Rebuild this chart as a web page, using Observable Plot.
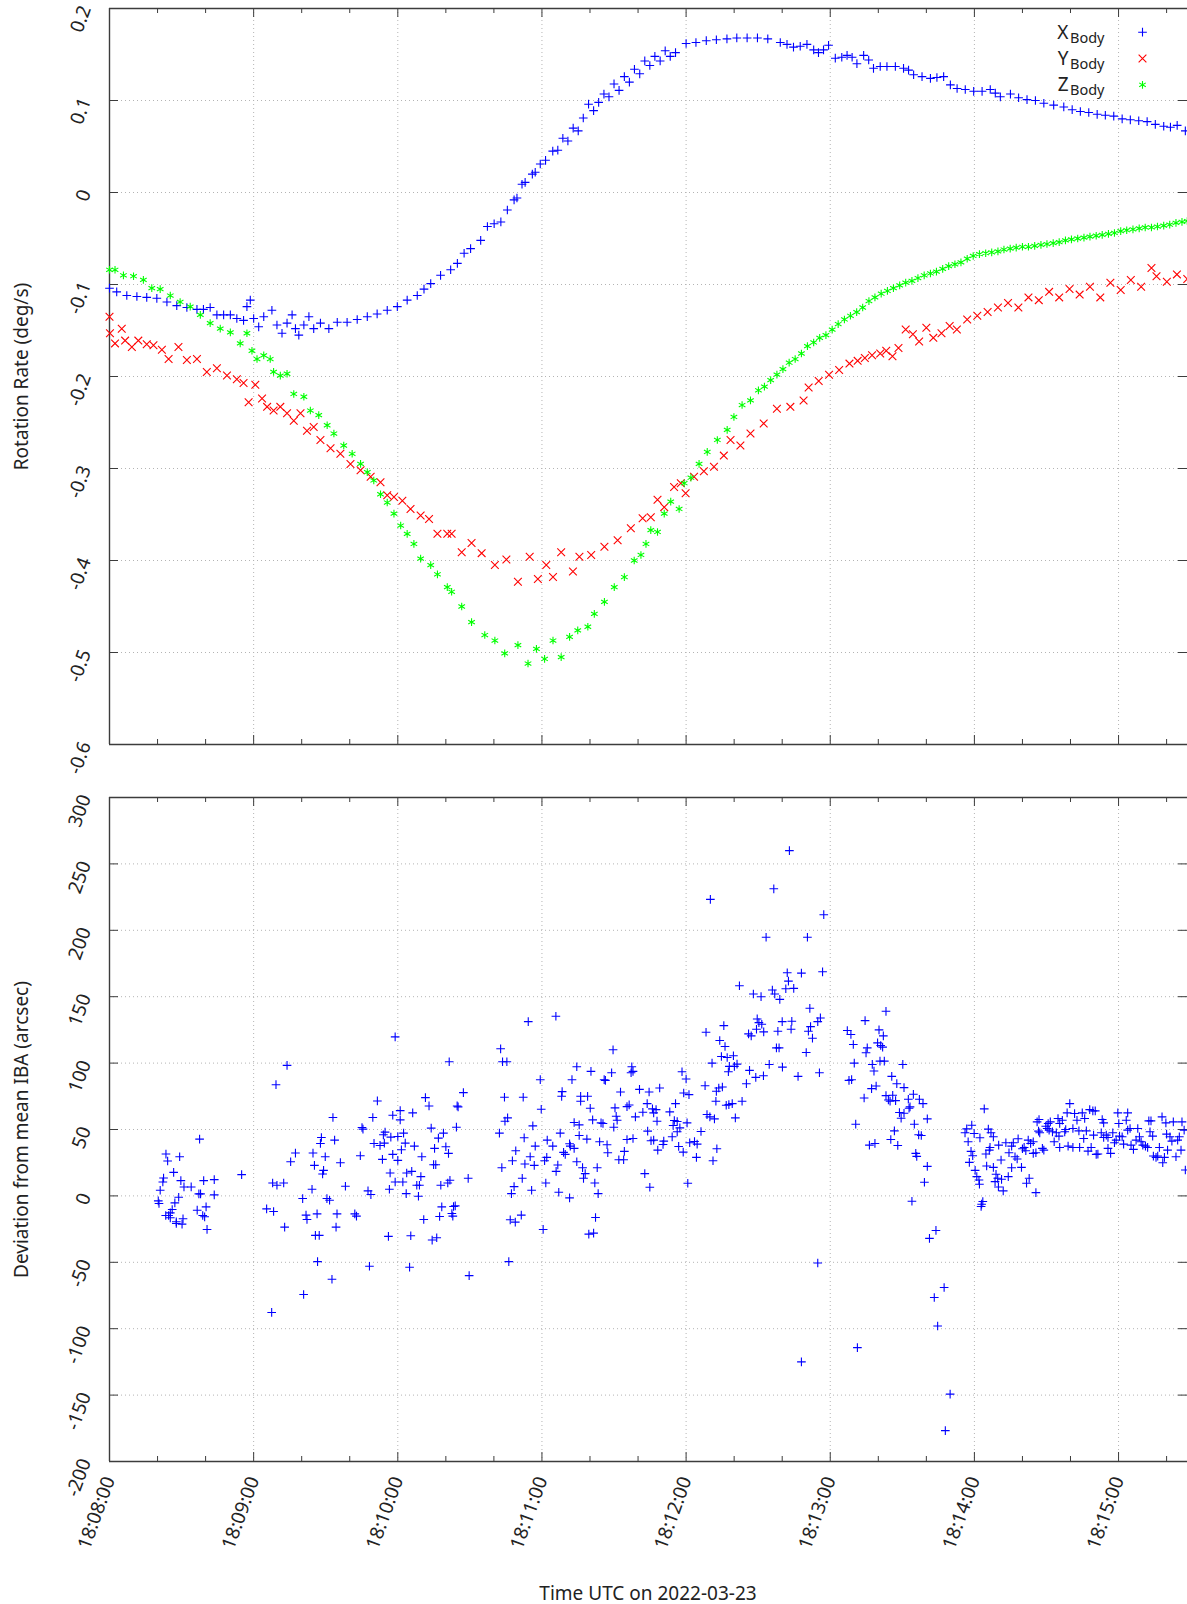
<!DOCTYPE html>
<html><head><meta charset="utf-8">
<script src="https://cdn.jsdelivr.net/npm/d3@7"></script>
<script src="https://cdn.jsdelivr.net/npm/@observablehq/plot@0.6"></script>
<style>
html,body{margin:0;padding:0;background:#fff;overflow:hidden;}
body{font-family:"Noto Sans",sans-serif;width:1187px;height:1604px;position:relative;}
#chart svg{display:block;overflow:visible;}
#xlabel{position:absolute;left:109px;width:1078px;top:1580px;line-height:26px;text-align:center;font-size:19px;color:#222;}
</style></head><body>
<div id="chart"></div>
<div id="xlabel">Time UTC on 2022-03-23</div>
<script>
// ---------- data ----------
const startUTC = "2022-03-23T18:08:00Z";
const xTickLabels = ["18:08:00","18:09:00","18:10:00","18:11:00","18:12:00","18:13:00","18:14:00","18:15:00"];
const yTopTicks = [0.2, 0.1, 0, -0.1, -0.2, -0.3, -0.4, -0.5, -0.6];
const yBottomTicks = [300, 250, 200, 150, 100, 50, 0, -50, -100, -150, -200];
const legendLabels = ["X", "Y", "Z"];
const legendSub = "Body";
const seriesColors = ["#0000ff", "#ff0000", "#00ff00"];
const seriesSymbols = ["plus", "times", "asterisk"];

// [seconds after 18:08:00, deg/s]
const xBody = [[0,-0.104],[3,-0.108],[7.2,-0.112],[11.4,-0.113],[15.5,-0.114],[19.7,-0.115],[23.9,-0.119],[28,-0.123],[32.2,-0.125],[36.4,-0.127],[39.1,-0.127],[41.9,-0.125],[44.7,-0.133],[47.5,-0.133],[50.3,-0.133],[53,-0.137],[55.8,-0.139],[57.2,-0.124],[58.6,-0.117],[60,-0.137],[62.1,-0.146],[64.2,-0.135],[67.6,-0.128],[69.7,-0.144],[71.8,-0.153],[73.9,-0.142],[76,-0.133],[77.4,-0.148],[78.8,-0.155],[80.9,-0.144],[83,-0.135],[85,-0.148],[87.8,-0.142],[91.3,-0.148],[94.8,-0.141],[98.9,-0.141],[103.1,-0.138],[107.3,-0.135],[111.4,-0.132],[115.6,-0.128],[119.8,-0.124],[123.9,-0.117],[128.1,-0.112],[130.9,-0.105],[133.7,-0.099],[137.8,-0.090],[142,-0.084],[144.8,-0.077],[147.6,-0.066],[150.3,-0.061],[154.5,-0.052],[157.3,-0.037],[160.1,-0.034],[162.9,-0.032],[165.6,-0.019],[168.4,-0.008],
[169.6,-0.006],[171.7,0.009],[173,0.011],[176,0.020],[177.2,0.022],[179.3,0.031],[181.5,0.035],[184.5,0.045],[186.6,0.046],[188.7,0.059],[190.8,0.056],[193,0.070],[195.1,0.067],[197.2,0.081],[199.4,0.096],[201.5,0.089],[203.6,0.098],[205.8,0.107],[207.9,0.104],[210,0.118],[212.1,0.111],[214.3,0.126],[216.4,0.120],[218.5,0.134],[220.7,0.129],[222.8,0.143],[224.9,0.138],[227,0.148],[229.2,0.143],[231.3,0.154],[233.4,0.148],[235.6,0.152],[240,0.162],[244.1,0.163],[248.4,0.165],[252.6,0.166],[257,0.167],[261.1,0.168],[265.4,0.168],[269.7,0.168],[274,0.167],
[279.2,0.163],[282,0.161],[284.7,0.158],[287.5,0.159],[290.3,0.161],[293.1,0.155],[295.1,0.152],[297.2,0.155],[299.3,0.160],[302.1,0.146],[304.8,0.147],[307,0.149],[309.1,0.147],[311.1,0.140],[313.9,0.149],[316,0.144],[318,0.135],[320.8,0.137],[323.6,0.137],[327.1,0.137],[330.5,0.135],[332.6,0.133],[334.7,0.128],[338.2,0.126],[341.7,0.124],[344.4,0.125],[347.2,0.126],[350,0.117],[352.8,0.113],[356.2,0.112],[359.7,0.110],[363.2,0.110],[366.6,0.112],[368.7,0.108],[370.8,0.104],[375,0.107],[378.4,0.103],[381.9,0.101],[385.4,0.100],[388.9,0.097],[393,0.095],[397.2,0.093],[400.7,0.090],[404.1,0.088],[407.6,0.087],[411.1,0.085],[414.5,0.084],[418,0.083],[421.5,0.080],[424.9,0.079],[428.4,0.078],[431.9,0.077],[435.3,0.074],[438.8,0.072],[441.6,0.071],[444.4,0.073],[447.8,0.067]];

const yBody = [[0,-0.135],[0.2,-0.153],[2.3,-0.164],[5.1,-0.148],[6.5,-0.161],[9.3,-0.168],[12,-0.161],[15.5,-0.165],[18.3,-0.166],[21.8,-0.171],[24.6,-0.181],[28.7,-0.168],[32.2,-0.182],[36.4,-0.181],[40.5,-0.195],[44.7,-0.191],[48.9,-0.199],[53,-0.203],[55.8,-0.207],[57.9,-0.228],[60.7,-0.209],[63.5,-0.224],[65.6,-0.233],[68.3,-0.237],[71.1,-0.233],[73.9,-0.240],[76.7,-0.248],[79.5,-0.240],[82.2,-0.259],[85,-0.255],[87.8,-0.269],[92,-0.278],[96.1,-0.284],[100.3,-0.295],[104.5,-0.302],[108.7,-0.309],[112.8,-0.315],[115.6,-0.329],[118.4,-0.331],[121.9,-0.335],[125.3,-0.344],[129.5,-0.351],[133,-0.355],[136.5,-0.371],[140.6,-0.371],[142.4,-0.371],[146.6,-0.391],[150.7,-0.381],[154.9,-0.392],[160.4,-0.405],[165.2,-0.399],[170,-0.423],[174.9,-0.396],[178.3,-0.420],[181.8,-0.405],[184.6,-0.418],[188,-0.391],[192.9,-0.412],[195.6,-0.396],[200.5,-0.394],[206,-0.385],[211.5,-0.378],[217,-0.365],[221.9,-0.354],[225.3,-0.353],[228.1,-0.334],[230.9,-0.342],[235,-0.320],[237.8,-0.316],[239.8,-0.327],[243.3,-0.309],[247.4,-0.303],[251.6,-0.298],[255.7,-0.286],[258.5,-0.269],[262.6,-0.275],[266.8,-0.262],[272.3,-0.251],[277.8,-0.235],[283.4,-0.233],[288.9,-0.226],
[291,-0.212],[295.2,-0.205],[299.5,-0.198],[303.7,-0.193],[308,-0.186],[311.4,-0.183],[314.4,-0.180],[317.4,-0.177],[320.8,-0.175],[323.3,-0.172],[325.9,-0.178],[328.4,-0.169],[331.4,-0.149],[334.4,-0.154],[337,-0.162],[340,-0.147],[342.9,-0.158],[346.3,-0.153],[349.7,-0.145],[352.7,-0.149],[357,-0.138],[361.2,-0.134],[365.5,-0.130],[369.8,-0.125],[374,-0.120],[378.3,-0.125],[382.5,-0.114],[386.8,-0.117],[391.1,-0.108],[395.3,-0.114],[399.6,-0.105],[403.8,-0.111],[408.1,-0.1025],[412.4,-0.114],[416.6,-0.098],[420.9,-0.106],[425.1,-0.095],[429.4,-0.1025],[433.7,-0.082],[435.8,-0.091],[440.1,-0.097],[444.3,-0.089],[448.6,-0.094]];

const zBody = [[0,-0.084],[2.3,-0.084],[5.8,-0.090],[10,-0.091],[14.1,-0.095],[17.6,-0.104],[21.1,-0.105],[25.3,-0.112],[29.4,-0.119],[33.6,-0.124],[37.8,-0.133],[41.9,-0.142],[46.1,-0.148],[50.3,-0.152],[54.4,-0.164],[57.2,-0.153],[59.3,-0.172],[61.4,-0.181],[64.2,-0.177],[66.9,-0.181],[68.3,-0.195],[71.1,-0.199],[73.9,-0.197],[76.7,-0.219],[80.9,-0.222],[83.6,-0.237],[87.1,-0.242],[90.6,-0.253],[93.4,-0.262],[97.5,-0.275],[101,-0.284],[104.5,-0.295],[107.3,-0.304],[110,-0.313],[112.8,-0.328],[115.6,-0.337],[118.4,-0.349],[121.2,-0.362],[123.9,-0.371],[126.7,-0.382],[129.5,-0.398],[133.7,-0.405],[136.5,-0.415],[140.6,-0.429],[142.4,-0.434],[146.6,-0.450],[150.7,-0.467],[156.2,-0.481],[160.4,-0.487],[164.5,-0.501],[170,-0.492],[174.2,-0.512],[177.7,-0.496],[181.1,-0.507],[184.6,-0.487],[188,-0.505],[191.5,-0.483],[194.9,-0.476],[199.1,-0.472],[201.8,-0.458],[206,-0.445],[210.1,-0.429],[214.3,-0.418],[218.4,-0.400],[221.2,-0.394],[223.3,-0.382],[225.3,-0.367],[228.1,-0.369],[230.9,-0.349],[233.6,-0.336],[237.1,-0.344],[239.2,-0.316],[242,-0.310],[245.4,-0.295],[248.8,-0.282],[253,-0.269],[257.1,-0.258],[259.9,-0.244],[263.3,-0.231],[266.8,-0.226],
[270.1,-0.215],[272.6,-0.211],[275.2,-0.204],[277.8,-0.198],[280.3,-0.192],[282.9,-0.185],[285.4,-0.181],[288,-0.175],[290.5,-0.167],[293.1,-0.163],[295.6,-0.158],[298.2,-0.155],[300.8,-0.149],[303.3,-0.143],[305.9,-0.138],[308.4,-0.134],[311,-0.130],[313.5,-0.125],[316.1,-0.118],[318.6,-0.114],[321.2,-0.110],[323.8,-0.107],[326.3,-0.104],[328.9,-0.101],[331.4,-0.098],[334,-0.096],[336.5,-0.093],[339.1,-0.090],[341.7,-0.088],[344.2,-0.086],[346.8,-0.083],[349.3,-0.080],[351.9,-0.078],[354.4,-0.076],[357,-0.072],[359.5,-0.069],[362.1,-0.067],[364.7,-0.066],[367.2,-0.065],[369.8,-0.064],[372.3,-0.062],[374.9,-0.061],[377.4,-0.060],[380,-0.059],[382.5,-0.059],[385.1,-0.058],[387.7,-0.057],[390.2,-0.056],[392.8,-0.055],[395.3,-0.054],[397.9,-0.052],[400.4,-0.051],[403,-0.050],[405.6,-0.049],[408.1,-0.048],[410.7,-0.047],[413.2,-0.046],[415.8,-0.045],[418.3,-0.044],[420.9,-0.042],[423.4,-0.041],[426,-0.040],[428.6,-0.039],[431.1,-0.038],[433.7,-0.038],[436.2,-0.037],[438.8,-0.036],[441.3,-0.035],[443.9,-0.033],[446.4,-0.032],[448.6,-0.031]];

// [seconds after 18:08:00, arcsec]
const ibaDeviation = [
[37.5,42.75],[23.5,31.5],[29.2,29.5],[24.2,26.25],[26.7,17.75],[22.5,13.5],[22.2,10.5],[29.7,11.5],[21.1,4.25],[31.0,6.75],[34.0,6.75],[39.2,11.5],[43.6,12.25],[37.2,1.5],[37.9,1.5],[43.6,0.75],[28.8,-1],[20.3,-3.75],[20.6,-5.75],[27.2,-5.25],[40.2,-8.25],[26.1,-10.25],[36.5,-10.75],[25.3,-12.75],[23.4,-14.75],[24.6,-14.75],[38.8,-14.75],[39.6,-15.75],[25.3,-16.5],[27.8,-19.5],[30.6,-17.25],[27.8,-20.75],[30.2,-21.25],[40.6,-25.25],
[55.0,16],
[73.9,98.25],[69.3,83.75],[93.0,59],[105.1,51.5],[105.5,50.25],[88.2,44],[93.7,42],[87.8,39.5],[77.4,32.25],[84.7,32.25],[89.8,29.5],[104.4,30.25],[75.4,25.75],[85.3,23],[96.1,25],[89.1,19.25],[88.7,16.5],[67.9,9.75],[69.7,8],[72.5,9.75],[98.2,7.25],[84.3,5],[107.6,3.75],[80.4,-2],[90.5,-2],[91.6,-3.25],[65.4,-9.75],[68.3,-11.75],[81.8,-14.5],[86.4,-13.5],[94.7,-13.5],[102.1,-13.5],[102.8,-15.25],[82.2,-17.75],[72.9,-23.5],[94.3,-23.5],[85.7,-29.75],[87.3,-29.75],[86.6,-49.5],[108.2,-53],[92.6,-62.75],[80.8,-74.25],[67.5,-87.75],
[118.9,119.75],[141.4,101],[111.5,71.5],[147.3,77.75],[131.5,74],[133.0,67.75],[144.7,67.75],[145.1,67],[121.0,64.25],[126.2,62.5],[117.9,60.75],[109.6,59],[121.0,57.25],[133.9,51],[144.4,51.75],[114.7,48],[114.0,46],[122.4,47.25],[139.0,47.25],[117.1,44.25],[120.0,44.75],[136.9,43.5],[110.1,39.5],[112.6,38],[114.4,39.75],[123.1,39.75],[126.9,37.5],[121.5,34.75],[135.3,35.75],[140.0,37],[141.1,32],[117.9,31.25],[130.0,29.5],[113.6,27.5],[120.0,26.75],[134.9,23.5],[135.8,23.5],[116.8,17.25],[123.7,17.25],[125.8,18.5],[129.6,14.5],[118.9,10.5],[122.1,10.5],[141.7,11.75],[140.8,9.75],[149.3,13.25],[137.9,8],[127.9,8],[129.0,8],[116.5,5],[108.8,1],[123.5,1.75],[128.6,-0.25],[138.3,-8.25],[143.2,-8],[143.9,-7.5],[142.5,-13.25],[137.4,-15.5],[142.9,-15.25],[130.8,-17.75],[116.1,-30.5],[125.4,-30],[134.3,-33.25],[136.2,-31.5],[124.9,-53.75],[149.7,-60],
[185.8,135.25],[174.3,131.25],[162.8,110.75],[163.6,101],[165.4,101],[194.5,97.25],[200.4,93.75],[179.3,87.5],[192.5,87.5],[188.4,78.5],[188.2,75],[164.4,74.25],[172.2,74.25],[196.1,75],[199.0,75],[196.1,71.25],[200.1,66],[179.7,65.25],[165.7,58.75],[164.6,56.25],[201.1,57.25],[193.4,55.25],[195.5,53.5],[176.2,52.75],[187.6,47.25],[162.3,47.25],[195.5,45.5],[172.6,43.75],[198.7,42.75],[182.2,42],[204.0,40.75],[177.2,37.5],[184.5,37.5],[191.5,39.25],[191.8,37.5],[169.1,34],[189.0,32.75],[189.7,31.25],[193.4,35.75],[175.1,29.5],[182.0,29],[181.1,26.5],[167.7,26.5],[194.5,25.75],[172.9,24],[176.8,23],[186.6,23.25],[196.9,21.25],[203.0,21.25],[163.3,21.25],[185.9,18.5],[198.0,16.75],[197.3,13.25],[171.8,13.25],[181.6,9.75],[202.0,9.75],[168.4,7],[175.7,4.25],[167.3,1.75],[187.0,2.75],[203.4,1.75],[191.5,-1.5],[171.4,-14.5],[166.8,-18],[168.9,-19.75],[202.3,-16.25],[180.5,-25.25],[199.5,-28.75],[201.5,-28],[166.2,-49.5],
[283.0,260],[276.5,231.25],[250.1,223.25],[297.3,211.75],[273.3,194.75],[290.5,194.75],[282.1,168],[282.6,161.75],[288.0,167.75],[296.8,168.75],[262.2,158.25],[284.8,156.25],[281.5,156],[268.0,152],[271.2,150],[275.9,155],[276.9,152],[279.0,148],[291.5,141.25],[269.6,133.25],[270.3,130.5],[271.5,129.25],[269.3,125.5],[272.3,123.5],[280.0,131.25],[284.0,131.5],[295.9,134],[294.8,131.25],[291.8,127.5],[290.9,124],[292.6,118.75],[266.0,122],[267.1,120.5],[278.2,124],[283.7,125.5],[248.3,123.25],[255.7,128.25],[254.0,117],[256.2,112.5],[277.6,111.5],[278.7,111.5],[290.0,108],[209.6,110],[254.7,105],[257.1,104.25],[259.7,105.5],[250.8,100],[274.6,99],[280.1,97],[258.0,97.5],[257.6,93.5],[260.1,97.5],[261.2,99.25],[266.4,94.5],[295.5,92.75],[286.6,90],[269.0,89.25],[272.2,90.5],[265.1,84.5],[217.4,97.25],[217.9,93.75],[217.1,92.75],[209.0,92.75],[238.3,93.5],[240.0,88],[205.9,87.5],[206.4,87],[247.9,83],[253.6,81.25],[255.1,82],[212.7,78.25],[220.6,80.25],[224.6,78.25],[229.0,81.25],[239.0,77.5],[241.2,76.25],[252.6,78.75],[252.4,71.25],[257.8,68.75],[259.2,69.5],[256.7,68.25],[263.3,71.25],[235.6,69.5],[223.8,69.5],[215.4,67.25],[216.3,68.5],[210.4,66.25],[222.0,63],[226.5,62.5],[227.5,65],[226.0,65.5],[233.2,63.25],[218.9,59.5],[210.9,60],[211.3,57],[248.7,61.25],[249.9,59.5],[251.8,58],[260.5,58.75],[204.6,55],[205.4,54.5],[240.4,55],[227.9,56.25],[235.1,56.75],[236.3,56],[234.6,53],[237.4,51.25],[209.9,51.75],[224.0,48.75],[246.2,48.5],[236.3,48.25],[234.2,44.5],[215.4,42.5],[217.9,43.25],[225.4,41.5],[226.5,42],[230.7,41.25],[230.4,38.75],[241.5,40],[243.5,41],[244.6,39],[207.1,38.5],[236.9,37.25],[252.8,35.5],[214.3,33.5],[207.4,32.5],[228.2,34.5],[238.8,33],[244.3,29],[212.0,27.25],[214.0,27.25],[251.2,26.5],[222.8,16.75],[224.9,6.5],[240.7,9.5],[294.8,-50.5],[288.0,-125],
[323.2,139],[314.5,132],[307.1,124.5],[308.6,121.5],[320.3,125],[322.1,120.5],[309.6,114],[315.4,111.5],[314.9,107.75],[319.7,115.25],[321.0,113.25],[321.8,112],[310.0,100],[317.5,99],[318.2,94],[320.7,101.5],[322.5,101.5],[330.2,99],[307.8,87],[308.9,87.5],[325.6,90],[327.7,84.5],[317.2,80.75],[319.1,82.75],[330.7,81.5],[334.6,76.5],[314.1,73.75],[323.2,75.5],[326.0,75.75],[324.2,72.25],[324.9,71.25],[327.2,71.75],[332.5,72.75],[337.1,72.75],[338.6,69.5],[333.2,67],[332.8,66],[328.8,62.75],[330.7,62.25],[329.5,58.5],[340.4,58],[310.6,54],[335.0,54],[326.7,49],[336.8,46],[337.9,45.5],[325.2,42.5],[316.3,38.25],[318.6,39.5],[328.1,38],[335.6,32],[336.0,29.75],[340.4,22.25],[339.2,10.25],[334.0,-4],[344.0,-26],[341.3,-32],[347.4,-69],[343.3,-76.5],[344.7,-98],[311.3,-114.25],[349.9,-149.25],[347.9,-176.75],
[364.1,65.5],[356.1,47.5],[356.8,50.5],[358.9,53.25],[359.9,47],[357.4,40.75],[362.3,43.75],[358.6,33.5],[359.3,30.25],[357.9,25.25],[360.3,19.25],[361.0,14.5],[361.9,12],[362.1,8.75],[363.5,-4.25],[363.0,-6.25],[362.8,-8],[365.8,50.25],[366.9,47.5],[367.9,44.5],[366.5,36.5],[366.2,34.5],[364.8,31.5],[365.1,22.5],[367.9,21.5],[369.0,16.25],[369.7,13.25],[368.6,10.75],[370.0,6.75],[372.0,3.75],[371.3,12.5],[374.1,14.5],[370.1,38.25],[371.1,27],[373.1,40],[374.4,32.5],[376.2,40],[375.5,37.5],[378.2,43],[376.9,29.5],[377.8,27.75],[375.5,21.25],[379.6,21.5],[380.0,35.5],[380.7,36.5],[381.4,34],[382.4,42],[383.4,39.5],[384.5,40.75],[382.8,13.25],[381.7,9.5],[385.6,2.5],[384.5,32],[385.6,32.5],[386.1,55.75],[386.9,57.5],[387.2,47.5],[386.7,48.75],[388.3,35.75],[388.9,34.5],[389.7,52.5],[390.3,50.75],[391.1,49.5],[390.7,54.5],[392.5,48.25],[391.6,55.75],[393.2,40.75],[394.1,47.5],[395.2,45],[394.8,58.25],[395.5,54.5],[396.6,57],[397.6,48.25],[398.0,50],[398.6,62.5],[399.7,69.5],[395.5,36.5],[399.0,37.5],[401.0,36.5],[403.8,36.5],[401.0,50.75],[401.7,62],[402.7,57],[403.5,49],[404.9,62.5],[405.9,58.25],[406.6,49],[405.5,43.25],[407.3,33.75],[408.6,36.5],[409.6,45.75],[408.0,65],[409.3,64],[410.3,64],[410.7,31.25],[411.4,31.5],[413.2,57.5],[413.8,55],[412.8,47.5],[413.8,44],[414.9,45.75],[415.6,35.75],[416.7,32],[415.6,44],[417.6,47.5],[418.3,40],[419.0,42],[419.7,62.5],[420.1,54.5],[420.4,45],[421.5,44.5],[422.1,39],[423.2,57],[423.8,62.5],[423.8,49.5],[424.8,50.75],[425.2,38.25],[426.2,35],[427.3,42],[428.0,50.75],[428.7,44.5],[429.4,40.75],[430.1,38.25],[431.2,37.5],[432.1,36.5],[432.6,56.5],[433.5,56.5],[433.1,48.25],[434.2,45],[434.5,30],[435.6,29],[436.3,30],[437.0,36.5],[438.1,59.5],[438.4,25],[439.1,29],[439.7,55],[440.0,46.5],[440.4,34.5],[441.4,44.5],[442.2,41.25],[442.8,55.75],[443.9,29.5],[444.6,42],[445.3,44.5],[446.0,34.5],[446.4,55.75],[447.3,49.5],[447.8,19.5]
];

// ---------- layout ----------
const W = 1187, ML = 109, FW = W - ML;
const TEXT = "#222", INK = "#3c3c3c", GRID = "#b4b4b4";
const t0 = new Date(startUTC).getTime();
const at = s => new Date(t0 + s * 1000);
const secOf = lab => { const [h, m, s] = lab.split(":").map(Number); return h * 3600 + m * 60 + s - (18 * 3600 + 8 * 60); };
const majorX = xTickLabels.map(l => at(secOf(l)));
const xEnd = 448.7;
const minorX = d3.range(0, xEnd, 20).filter(s => s % 60 !== 0).map(at);
const xScale = {type: "utc", domain: [at(0), at(xEnd)], axis: null};

function frameMarks(yTicks, fh, yMin, yMax) {
  return [
    Plot.ruleX(majorX.slice(1), {stroke: GRID, strokeDasharray: "1,3"}),
    Plot.ruleY(yTicks.filter(v => v !== yMin && v !== yMax), {stroke: GRID, strokeDasharray: "1,3"}),
    Plot.tickY(yTicks, {y: d => d, stroke: INK, insetRight: FW - 9}),
    Plot.tickY(yTicks, {y: d => d, stroke: INK, insetLeft: FW - 9}),
    Plot.tickX(majorX, {x: d => d, stroke: INK, insetTop: fh - 9}),
    Plot.tickX(majorX, {x: d => d, stroke: INK, insetBottom: fh - 9}),
    Plot.tickX(minorX, {x: d => d, stroke: INK, insetTop: fh - 5}),
    Plot.tickX(minorX, {x: d => d, stroke: INK, insetBottom: fh - 5}),
    Plot.ruleX([at(0)], {stroke: INK, strokeWidth: 1.4}),
    Plot.ruleY([yMin, yMax], {stroke: INK, strokeWidth: 1.4}),
    Plot.text(yTicks, {y: d => d, text: d => String(d), frameAnchor: "left", dx: -24, dy: -2,
      rotate: -70, textAnchor: "end", lineAnchor: "middle", fontSize: 19, fill: TEXT})
  ];
}

const symR = {plus: 2.9, times: 3.6, asterisk: 3.6};
const seriesData = [xBody, yBody, zBody];

const topFH = 744 - 8;
const topChart = Plot.plot({
  width: W, height: 790, marginLeft: ML, marginRight: 0, marginTop: 8, marginBottom: 46,
  x: xScale,
  y: {domain: [-0.6, 0.2], axis: null},
  style: {fontFamily: '"Noto Sans", sans-serif', background: "transparent", overflow: "visible"},
  marks: [
    frameMarks(yTopTicks, topFH, -0.6, 0.2),
    seriesData.map((data, i) => Plot.dot(data, {x: d => at(d[0]), y: d => d[1], symbol: seriesSymbols[i],
      r: symR[seriesSymbols[i]], stroke: seriesColors[i], fill: "none", strokeWidth: 1.1})),
    legendLabels.map((lab, i) => [
      Plot.text([lab], {text: d => d, frameAnchor: "top-right", dx: -119, dy: 24.5 + 25.8 * i,
        textAnchor: "end", lineAnchor: "middle", fontSize: 19, fill: TEXT}),
      Plot.text([legendSub], {text: d => d, frameAnchor: "top-right", dx: -83, dy: 30 + 25.8 * i,
        textAnchor: "end", lineAnchor: "middle", fontSize: 14.5, fill: TEXT}),
      Plot.dot([lab], {frameAnchor: "top-right", dx: -45, dy: 23.7 + 26.3 * i, symbol: seriesSymbols[i],
        r: symR[seriesSymbols[i]], stroke: seriesColors[i], fill: "none", strokeWidth: 1.1})
    ]),
    Plot.text(["Rotation Rate (deg/s)"], {text: d => d, frameAnchor: "left", dx: -88, rotate: -90,
      textAnchor: "middle", lineAnchor: "middle", fontSize: 19, fill: TEXT})
  ]
});

const botFH = 1461 - 797;
const bottomChart = Plot.plot({
  width: W, height: 780, marginLeft: ML, marginRight: 0, marginTop: 7, marginBottom: 109,
  x: xScale,
  y: {domain: [-200, 300], axis: null},
  style: {fontFamily: '"Noto Sans", sans-serif', background: "transparent", overflow: "visible"},
  marks: [
    frameMarks(yBottomTicks, botFH, -200, 300),
    Plot.dot(ibaDeviation, {x: d => at(d[0]), y: d => d[1], symbol: "plus", r: symR.plus,
      stroke: seriesColors[0], fill: "none", strokeWidth: 1.1}),
    Plot.text(xTickLabels, {x: (d, i) => majorX[i], text: d => d, frameAnchor: "bottom", dx: 0, dy: 16,
      rotate: -70, textAnchor: "end", lineAnchor: "middle", fontSize: 19, fill: TEXT}),
    Plot.text(["Deviation from mean IBA (arcsec)"], {text: d => d, frameAnchor: "left", dx: -88, rotate: -90,
      textAnchor: "middle", lineAnchor: "middle", fontSize: 19, fill: TEXT})
  ]
});

const chart = document.getElementById("chart");
chart.appendChild(topChart);
chart.appendChild(bottomChart);
</script>
</body></html>
